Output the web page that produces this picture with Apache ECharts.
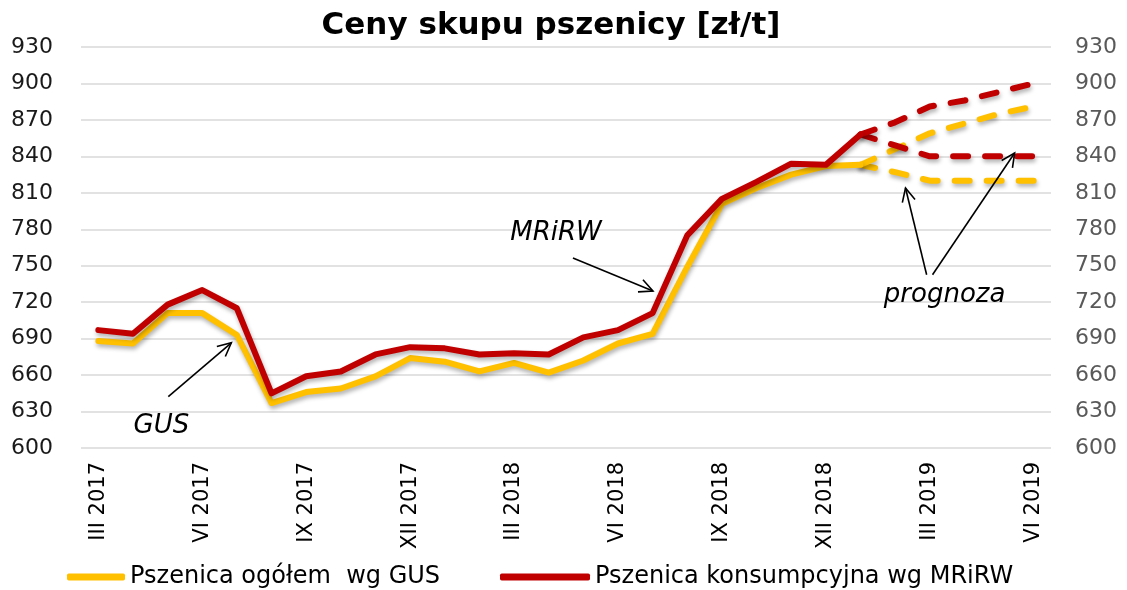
<!DOCTYPE html>
<html><head><meta charset="utf-8">
<script src="https://cdn.jsdelivr.net/npm/echarts@6/dist/echarts.min.js"></script>
<style>html,body{margin:0;padding:0;background:#fff}#c{width:1127px;height:590px}</style>
</head><body><div id="c"></div>
<script>
const months = ['III 2017','IV 2017','V 2017','VI 2017','VII 2017','VIII 2017','IX 2017','X 2017','XI 2017','XII 2017',
  'I 2018','II 2018','III 2018','IV 2018','V 2018','VI 2018','VII 2018','VIII 2018','IX 2018','X 2018','XI 2018','XII 2018',
  'I 2019','II 2019','III 2019','IV 2019','V 2019','VI 2019'];
const N = null;
const gus      = [688,686,711,711,693,637,646,649,659,674,671,663,670,662,672,686,694,749,801,814,825,832,833,N,N,N,N,N];
const mrirw    = [697,694,718,730,715,645,659,663,677,683,682,677,678,677,691,697,711,775,805,819,834,833,858,N,N,N,N,N];
const gusHigh  = [N,N,N,N,N,N,N,N,N,N,N,N,N,N,N,N,N,N,N,N,N,N,833,846,859,867,875,881];
const gusLow   = [N,N,N,N,N,N,N,N,N,N,N,N,N,N,N,N,N,N,N,N,N,N,833,827,820,820,820,820];
const mrirwHigh= [N,N,N,N,N,N,N,N,N,N,N,N,N,N,N,N,N,N,N,N,N,N,858,868,881,886,893,900];
const mrirwLow = [N,N,N,N,N,N,N,N,N,N,N,N,N,N,N,N,N,N,N,N,N,N,858,849,840,840,840,840];
const yMin = 600, yMax = 930, yStep = 30;
const titleText = 'Ceny skupu pszenicy [zł/t]';
const nameGus = 'Pszenica ogółem  wg GUS';
const nameMrirw = 'Pszenica konsumpcyjna wg MRiRW';
// annotations in data coordinates: [month index, value]
const annotTexts = [
  {text:'MRiRW', at:[13.21, 777]},
  {text:'GUS', at:[1.82, 618]},
  {text:'prognoza', at:[24.43, 726]}
];
const annotArrows = [
  {from:[13.70, 756.4], to:[16.01, 729.2]},
  {from:[2.02, 642.2], to:[3.84, 686.6]},
  {from:[23.91, 742.6], to:[23.30, 814.0]},
  {from:[24.08, 742.6], to:[26.45, 842.8]}
];

const YEL = '#FFC000', RED = '#C00000';
const FONT = 'DejaVu Sans';
const shadow = {shadowColor:'rgba(0,0,0,0.3)', shadowBlur:4, shadowOffsetX:1, shadowOffsetY:3};
function solid(name, data, color){
  return {name, type:'line', data, showSymbol:false, symbol:'none', connectNulls:false,
    lineStyle:Object.assign({color, width:6, cap:'round', join:'round'}, shadow),
    itemStyle:{color}, z:3, animation:false};
}
function dashed(name, data, color){
  return {name, type:'line', data, showSymbol:false, symbol:'none',
    lineStyle:Object.assign({color, width:6, type:[15,17], cap:'round', join:'round'}, shadow),
    itemStyle:{color}, z:2, animation:false};
}
const chart = echarts.init(document.getElementById('c'), null, {renderer:'canvas'});
chart.setOption({
  animation:false,
  backgroundColor:'#fff',
  title:{text:titleText, left:551, textAlign:'center', top:10, padding:0,
    textStyle:{fontFamily:FONT, fontWeight:'bold', fontSize:31, color:'#000'}},
  legend:[
    {data:[nameGus], left:67, top:565, itemWidth:58, itemHeight:7, icon:'roundRect', padding:0,
      textStyle:{fontFamily:FONT, fontSize:24, color:'#000'}},
    {data:[nameMrirw], left:500, top:565, itemWidth:90, itemHeight:7, icon:'roundRect', padding:0,
      textStyle:{fontFamily:FONT, fontSize:24, color:'#000'}}
  ],
  grid:{left:81, right:76, top:47, bottom:142, containLabel:false},
  xAxis:[
    {type:'category', data:months, boundaryGap:true,
      axisLine:{show:false}, axisTick:{show:false},
      axisLabel:{interval:2, rotate:90, margin:14, fontFamily:FONT, fontSize:21, color:'#000'}},
    {type:'value', min:-0.5, max:months.length-0.5, show:false}
  ],
  yAxis:[
    {type:'value', min:yMin, max:yMax, interval:yStep, position:'left',
      axisLine:{show:false}, axisTick:{show:false},
      splitLine:{lineStyle:{color:'#d9d9d9', width:1.5}},
      axisLabel:{margin:28, fontFamily:FONT, fontSize:22, color:'#1a1a1a'}},
    {type:'value', min:yMin, max:yMax, interval:yStep, position:'right',
      axisLine:{show:false}, axisTick:{show:false}, splitLine:{show:false},
      axisLabel:{margin:24, fontFamily:FONT, fontSize:22, color:'#595959'}}
  ],
  series:[
    dashed('gusLow', gusLow, YEL),
    dashed('gusHigh', gusHigh, YEL),
    dashed('mrirwLow', mrirwLow, RED),
    dashed('mrirwHigh', mrirwHigh, RED),
    solid(nameGus, gus, YEL),
    solid(nameMrirw, mrirw, RED)
  ]
});

function px(p){
  return [chart.convertToPixel({xAxisIndex:1}, p[0]), chart.convertToPixel({yAxisIndex:0}, p[1])];
}
const graphics = [];
annotTexts.forEach(a=>{
  const p = px(a.at);
  graphics.push({type:'text', x:p[0], y:p[1], z:10,
    style:{text:a.text, fontFamily:FONT, fontStyle:'italic', fontSize:26, fill:'#000',
      textAlign:'center', textVerticalAlign:'middle', align:'center', verticalAlign:'middle'}});
});
annotArrows.forEach(a=>{
  const f = px(a.from), t = px(a.to);
  const ang = Math.atan2(t[1]-f[1], t[0]-f[0]);
  const L = 15, spread = 0.45;
  const h1 = [t[0]-L*Math.cos(ang-spread), t[1]-L*Math.sin(ang-spread)];
  const h2 = [t[0]-L*Math.cos(ang+spread), t[1]-L*Math.sin(ang+spread)];
  graphics.push({type:'line', z:10, shape:{x1:f[0], y1:f[1], x2:t[0], y2:t[1]},
    style:{stroke:'#000', lineWidth:1.6}});
  graphics.push({type:'polyline', z:10, shape:{points:[h1, t, h2]},
    style:{stroke:'#000', lineWidth:1.6, fill:null}});
});
chart.setOption({graphic:graphics});
</script>
</body></html>
